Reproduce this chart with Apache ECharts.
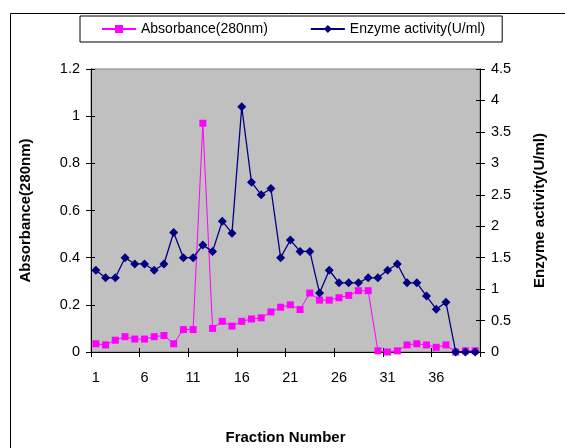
<!DOCTYPE html>
<html>
<head>
<meta charset="utf-8">
<script src="https://cdn.jsdelivr.net/npm/echarts@6/dist/echarts.min.js"></script>
<style>
  html, body { margin: 0; padding: 0; background: #fff; }
  #chart { width: 565px; height: 448px; }
</style>
</head>
<body>
<div id="chart"></div>
<script>
// Fraction numbers 1..40
const fractions = ['1','2','3','4','5','6','7','8','9','10','11','12','13','14','15','16','17','18','19','20',
                   '21','22','23','24','25','26','27','28','29','30','31','32','33','34','35','36','37','38','39','40'];

// Absorbance at 280 nm (left axis)
const absorbance = [0.035, 0.03, 0.05, 0.065, 0.055, 0.055, 0.065, 0.07, 0.035, 0.095,
                    0.095, 0.97, 0.10, 0.13, 0.11, 0.13, 0.14, 0.145, 0.17, 0.19,
                    0.20, 0.18, 0.25, 0.22, 0.22, 0.23, 0.24, 0.26, 0.26, 0.005,
                    0.0, 0.005, 0.03, 0.035, 0.03, 0.02, 0.03, 0.0, 0.005, 0.005];

// Enzyme activity in U/ml (right axis)
const enzyme = [1.3, 1.18, 1.18, 1.5, 1.4, 1.4, 1.3, 1.4, 1.9, 1.5,
                1.5, 1.7, 1.6, 2.08, 1.89, 3.9, 2.7, 2.5, 2.6, 1.5,
                1.78, 1.6, 1.6, 0.94, 1.3, 1.1, 1.1, 1.1, 1.18, 1.18,
                1.3, 1.4, 1.1, 1.1, 0.89, 0.68, 0.79, 0, 0, 0];

const leftTicks = { min: 0, max: 1.2, interval: 0.2 };
const rightTicks = { min: 0, max: 4.5, interval: 0.5 };

const FONT = 'Liberation Sans, Arial, sans-serif';
const tickText = { color: '#000', fontFamily: FONT, fontSize: 14.5 };
const titleText = { color: '#000', fontFamily: FONT, fontSize: 15, fontWeight: 'bold' };
const fmt = v => String(+v.toFixed(2));

const chart = echarts.init(document.getElementById('chart'), null, { renderer: 'canvas' });

function valueAxis(pos, range, opts) {
  return Object.assign({
    type: 'value',
    position: pos,
    min: range.min, max: range.max, interval: range.interval,
    splitLine: { show: false },
    axisLine: { show: true, lineStyle: { color: '#000', width: 1 } },
    axisTick: { show: true, length: 5, lineStyle: { color: '#000' } },
    axisLabel: Object.assign({}, tickText, { margin: 11, formatter: fmt })
  }, opts);
}

// second copy of an axis that only draws the inner half of crossing ticks
const innerTicks = { show: true, inside: true, length: 4, lineStyle: { color: '#000' } };

chart.setOption({
  animation: false,
  backgroundColor: '#fff',
  textStyle: { fontFamily: FONT },
  graphic: [{
    type: 'rect',
    shape: { x: 10.5, y: 13.5, width: 620, height: 500 },
    style: { fill: 'none', stroke: '#000', lineWidth: 1 },
    silent: true, z: -10
  }],
  legend: {
    left: 80, top: 16,
    padding: [6, 17, 6, 21],
    itemGap: 42,
    itemWidth: 34, itemHeight: 10,
    borderColor: '#000', borderWidth: 1,
    textStyle: { color: '#000', fontFamily: FONT, fontSize: 14 },
    data: ['Absorbance(280nm)', 'Enzyme activity(U/ml)']
  },
  grid: {
    left: 91, right: 85, top: 69, bottom: 96,
    containLabel: false,
    outerBoundsMode: 'none',
    show: true, backgroundColor: '#C0C0C0', borderColor: '#808080', borderWidth: 1
  },
  xAxis: [{
    type: 'category',
    data: fractions,
    boundaryGap: true,
    name: 'Fraction Number',
    nameLocation: 'middle',
    nameGap: 78,
    nameTextStyle: titleText,
    axisLine: { lineStyle: { color: '#000', width: 1 } },
    axisTick: { show: true, interval: 4, length: 5, lineStyle: { color: '#000' } },
    axisLabel: Object.assign({}, tickText, { interval: 4, margin: 18 })
  }, {
    type: 'category', data: fractions, boundaryGap: true, position: 'bottom',
    axisLine: { show: false },
    axisTick: Object.assign({ interval: 4 }, innerTicks),
    axisLabel: { show: false }
  }],
  yAxis: [
    valueAxis('left', leftTicks, {
      name: 'Absorbance(280nm)', nameLocation: 'middle', nameGap: 58, nameRotate: 90,
      nameTextStyle: titleText
    }),
    valueAxis('right', rightTicks, {
      name: 'Enzyme activity(U/ml)', nameLocation: 'middle', nameGap: 52, nameRotate: 90,
      nameTextStyle: titleText
    }),
    valueAxis('left', leftTicks, {
      axisLine: { show: false }, axisLabel: { show: false }, axisTick: innerTicks
    }),
    valueAxis('right', rightTicks, {
      axisLine: { show: false }, axisLabel: { show: false }, axisTick: innerTicks
    })
  ],
  series: [{
    name: 'Absorbance(280nm)',
    type: 'line',
    yAxisIndex: 0,
    data: absorbance,
    showAllSymbol: true,
    symbol: 'rect', symbolSize: 7,
    itemStyle: { color: '#FF00FF' },
    lineStyle: { color: '#FF00FF', width: 1 },
    z: 3
  }, {
    name: 'Enzyme activity(U/ml)',
    type: 'line',
    yAxisIndex: 1,
    data: enzyme,
    showAllSymbol: true,
    symbol: 'diamond', symbolSize: 9,
    itemStyle: { color: '#000080' },
    lineStyle: { color: '#000080', width: 1.3 },
    z: 4
  }]
});
</script>
</body>
</html>
